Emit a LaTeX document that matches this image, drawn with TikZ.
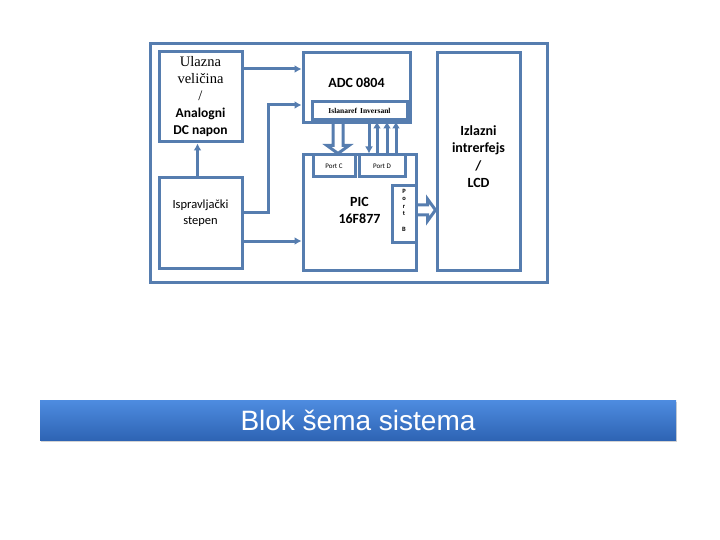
\documentclass[tikz,border=0pt]{standalone}
\usepackage{fontspec}
\setmainfont{Liberation Serif}
\newfontfamily\carlito{Carlito}
\newfontfamily\arialfont{Liberation Sans}
\usetikzlibrary{calc,arrows.meta,positioning,shadows}
\definecolor{frameblue}{RGB}{86,125,175}
\definecolor{bartop}{RGB}{78,140,224}
\definecolor{barbot}{RGB}{46,100,180}
\tikzset{blokshema/.style={
  x=1pt,y=-1pt,
  box/.style={draw=frameblue,line width=3pt,fill=white,inner sep=0pt},
  sig/.style={draw=frameblue,line width=3pt,-{Latex[length=7pt,width=8pt]}},
  bus/.style={draw=frameblue,line width=3pt},
  lbl/.style={align=center,inner sep=0pt,font=\carlito\fontsize{13}{17}\selectfont}
}}
\newcommand{\boldsans}{\carlito\bfseries\fontsize{13.5}{17}\selectfont}

\begin{document}
\begin{tikzpicture}[blokshema]
  \useasboundingbox (0,0) rectangle (720,540);
  \draw[bus] (150,44) rectangle (547,282);
  \node[box,minimum width=83pt,minimum height=90pt] (ulaz) at (200.5,97) {};
  \node[lbl,font=\fontsize{14.5}{17}\selectfont] (ulaztxt) at (ulaz.center)
    {Ulazna\\veličina\\/\\{\boldsans Analogni}\\{\boldsans DC napon}};
  \node[box,minimum width=83pt,minimum height=90pt] (isprav) at (200.5,223) {};
  \node[lbl,font=\carlito\fontsize{12.5}{16}\selectfont] (ispravtxt) at ([yshift=10pt]isprav.center) {Ispravljački\\stepen};
  \node[box,minimum width=107pt,minimum height=70pt] (adc) at (356.5,88) {};
  \node[lbl,font=\carlito\bfseries\fontsize{14}{17}\selectfont] (adctxt) at ([yshift=5pt]adc.center) {ADC 0804};
  \node[box,minimum width=95pt,minimum height=18pt,font=\bfseries\fontsize{7.5}{8}\selectfont] (strip) at (359.5,111) {Islanaref\, Inversanl};
  \node[box,minimum width=113pt,minimum height=115pt] (pic) at (359.5,212.5) {};
  \node[lbl,font=\carlito\bfseries\fontsize{14}{17}\selectfont] (pictxt) at ([yshift=2pt]pic.center) {PIC\\16F877};
  \node[box,minimum width=42pt,minimum height=22pt,font=\carlito\fontsize{7}{8}\selectfont] (portc) at (334,166) {Port C};
  \node[box,minimum width=46pt,minimum height=22pt,font=\carlito\fontsize{7}{8}\selectfont] (portd) at (382,166) {Port D};
  \node[box,minimum width=24pt,minimum height=56pt] (portb) at (404,214) {};
  \node[lbl,font=\carlito\bfseries\fontsize{6.5}{7.5}\selectfont] (portbtxt) at ([yshift=4pt]portb.center) {P\\o\\r\\t\\[8pt]B};
  \node[box,minimum width=83pt,minimum height=217pt] (lcd) at (478.5,161.5) {};
  \node[lbl,font=\carlito\bfseries\fontsize{14}{17.5}\selectfont] (lcdtxt) at ([yshift=5pt]lcd.center) {Izlazni\\intrerfejs\\/\\LCD};

  \draw[sig] ([yshift=28pt]ulaz.east) -- ([yshift=28pt]ulaz.east -| adc.west);
  \draw[sig] ([yshift=10pt]isprav.east) -- ++(25,0) |- ([yshift=-17pt]adc.west);
  \draw[sig] ([yshift=-18pt]isprav.east) -- ([yshift=-18pt]isprav.east -| pic.west);
  \draw[sig] ([xshift=-3pt]isprav.north) -- ([xshift=-3pt]ulaz.south);

  \coordinate (ctip) at ([xshift=4pt]portc.north);
  \draw[bus] ($(ctip |- strip.south)+(-5,0)$) -- ($(ctip)+(-5,-8)$) -- ($(ctip)+(-11,-8)$) -- (ctip)
    -- ($(ctip)+(11,-8)$) -- ($(ctip)+(5,-8)$) -- ($(ctip |- strip.south)+(5,0)$);
  \draw[sig] ([xshift=-13pt]portd.north |- strip.south) -- ([xshift=-13pt]portd.north);
  \foreach \dx in {-5,5,14}
    \draw[sig] ([xshift=\dx pt]portd.north) -- ([xshift=\dx pt]portd.north |- strip.south);

  \coordinate (btip) at ([yshift=4pt]portb.east -| lcd.west);
  \draw[bus] ($(portb.east |- btip)+(0,-5)$) -- ($(btip)+(-8,-5)$) -- ($(btip)+(-8,-11)$) -- (btip)
    -- ($(btip)+(-8,11)$) -- ($(btip)+(-8,5)$) -- ($(portb.east |- btip)+(0,5)$);

  \node[top color=bartop,bottom color=barbot,minimum width=636pt,minimum height=40pt,
    drop shadow={opacity=0.35,shadow xshift=1pt,shadow yshift=-2pt},
    text=white,font=\arialfont\fontsize{28}{31}\selectfont] (naslov) at (358,420) {Blok šema sistema};
\end{tikzpicture}
\end{document}
